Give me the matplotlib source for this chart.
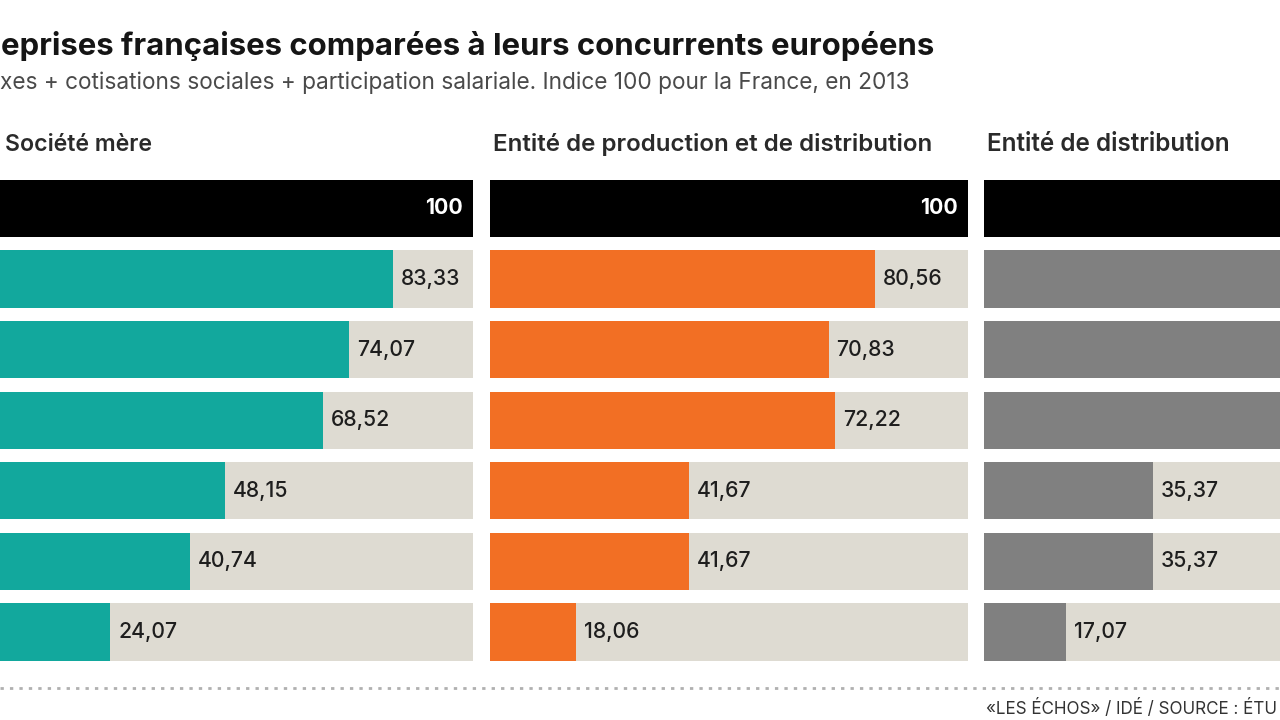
import matplotlib
matplotlib.use("Agg")
import matplotlib.pyplot as plt
from matplotlib.lines import Line2D

# ---- data ----
rows = ["France", "Pays 2", "Pays 3", "Pays 4", "Pays 5", "Pays 6", "Pays 7"]
panel_titles = ["Société mère", "Entité de production et de distribution", "Entité de distribution"]
societe_mere = [100, 83.33, 74.07, 68.52, 48.15, 40.74, 24.07]
production_distribution = [100, 80.56, 70.83, 72.22, 41.67, 41.67, 18.06]
distribution = [100, 78.05, 70.73, 65.85, 35.37, 35.37, 17.07]
series = [societe_mere, production_distribution, distribution]
colors = ["#12a89d", "#f26f24", "#808080"]

title = "eprises françaises comparées à leurs concurrents européens"
subtitle = "xes + cotisations sociales + participation salariale. Indice 100 pour la France, en 2013"
footer = "«LES ÉCHOS» / IDÉ / SOURCE : ÉTU"

W, H = 1280, 720
fig = plt.figure(figsize=(W / 100, H / 100), dpi=100)
fig.patch.set_facecolor("white")
plt.rcParams["font.family"] = ["Inter", "DejaVu Sans"]
renderer = fig.canvas.get_renderer()


def fx(x):
    return x / W


def fy(y):
    return 1 - y / H


def fit(t, target_w):
    w = t.get_window_extent(renderer=renderer).width
    t.set_fontsize(t.get_fontsize() * target_w / w)
    return t


# font size for value labels, from the width of "83,33" in the reference
probe = fig.text(0, 0, "83,33", fontsize=15, fontweight="medium")
fit(probe, 60)
label_fs = probe.get_fontsize()
probe.remove()

panel_left = [-5, 490, 984]
panel_w = 478
ax_top, ax_bot = 173.2, 667.3
bg = "#dedbd2"

for i, (vals, col) in enumerate(zip(series, colors)):
    ax = fig.add_axes([fx(panel_left[i]), fy(ax_bot), panel_w / W, (ax_bot - ax_top) / H])
    ax.set_xlim(0, 100)
    ax.set_ylim(len(rows) - 0.5, -0.5)
    ax.axis("off")
    ypos = list(range(len(rows)))
    ax.barh(ypos[1:], [100] * (len(rows) - 1), height=0.81, color=bg, linewidth=0)
    barcols = ["black"] + [col] * (len(rows) - 1)
    ax.barh(ypos, vals, height=0.81, color=barcols, linewidth=0)
    for j, v in enumerate(vals):
        # pixel x of bar end: skip labels that would fall outside the picture
        xend = panel_left[i] + panel_w * v / 100
        if xend + 60 > W:
            continue
        if j == 0:
            ax.annotate("100", (v, j), xytext=(-10, 0), textcoords="offset pixels",
                        ha="right", va="center", color="white", fontsize=label_fs,
                        fontweight="bold", clip_on=False)
        else:
            lab = f"{v:.2f}".replace(".", ",")
            ax.annotate(lab, (v, j), xytext=(8, 0), textcoords="offset pixels",
                        ha="left", va="center", color="#1e1e1e", fontsize=label_fs,
                        fontweight="medium", clip_on=False)
    # panel header
    t = fig.text(fx(panel_left[i] + (10 if i == 0 else 3)), fy(151), panel_titles[i],
                 ha="left", va="baseline", fontsize=15, fontweight="semibold", color="#2a2a2a")
    fit(t, [147, 441, 244][i])

t = fig.text(fx(1), fy(55), title, ha="left", va="baseline", fontsize=20,
             fontweight="bold", color="#151515")
fit(t, 934)
t = fig.text(fx(0), fy(89), subtitle, ha="left", va="baseline", fontsize=14,
             color="#4a4a4a")
fit(t, 913)

fig.add_artist(Line2D([0, 1], [fy(688), fy(688)], transform=fig.transFigure,
                      color="#b0b0b0", linewidth=2, linestyle=(0, (1.2, 2.2))))
t = fig.text(fx(986), fy(714), footer, ha="left", va="baseline", fontsize=11.5,
             color="#333333")
fit(t, 292)

fig.savefig("out.png", dpi=100)
